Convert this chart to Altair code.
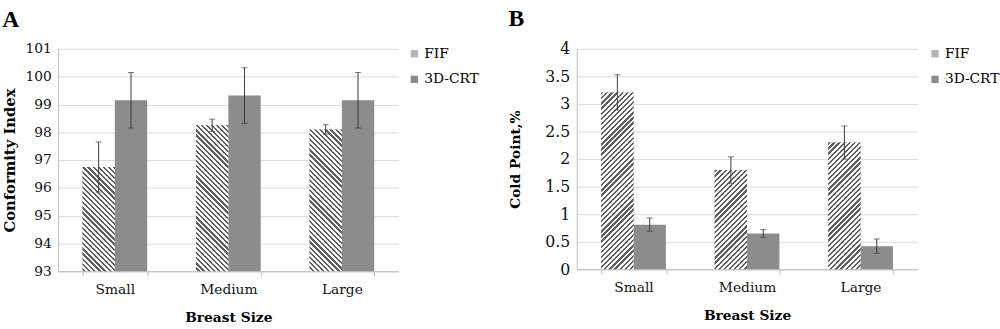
import math
import altair as alt
import pandas as pd

# ---------------- data ----------------
sizes = ["Small", "Medium", "Large"]
groups = ["FIF", "3D-CRT"]

ci_fif = [96.75, 98.25, 98.1]
ci_fif_err = [0.9, 0.22, 0.17]
ci_crt = [99.15, 99.32, 99.15]
ci_crt_err = [1.0, 1.0, 1.0]

cp_fif = [3.21, 1.8, 2.3]
cp_fif_err = [0.32, 0.24, 0.3]
cp_crt = [0.81, 0.65, 0.42]
cp_crt_err = [0.12, 0.07, 0.13]

FONT = "DejaVu Serif"
PAD_INNER = 0.43
HATCH = "#5e5e5e"
CRT_GRAY = "#8c8c8c"


def frame(fif, fif_err, crt, crt_err):
    rows = []
    for i, s in enumerate(sizes):
        rows.append(dict(size=s, group="FIF", value=fif[i],
                         lo=fif[i] - fif_err[i], hi=fif[i] + fif_err[i]))
        rows.append(dict(size=s, group="3D-CRT", value=crt[i],
                         lo=crt[i] - crt_err[i], hi=crt[i] + crt_err[i]))
    return pd.DataFrame(rows)


def clamp(t):
    return round(min(1.0, max(0.0, t)), 6)


def stripes(w, h, direction, period=5.2, dark=2.3):
    """Linear gradient (bounding-box units) that draws 45 degree stripes."""
    r = h / w
    s0, s1 = 0, w + h
    t = lambda s: s / (w * (1 + r * r))
    if direction == "back":  # "\\"
        coords = dict(x1=1, y1=0, x2=0, y2=r)
    else:  # "/"
        coords = dict(x1=0, y1=0, x2=1, y2=r)
    stops = [{"offset": 0, "color": "#ffffff"}]
    k = math.floor(s0 / period)
    while k * period < s1:
        a = k * period
        b = a + dark
        ta, tb = clamp(t(a)), clamp(t(b))
        stops += [{"offset": ta, "color": "#ffffff"},
                  {"offset": ta, "color": HATCH},
                  {"offset": tb, "color": HATCH},
                  {"offset": tb, "color": "#ffffff"}]
        k += 1
    stops.append({"offset": 1, "color": "#ffffff"})
    g = {"gradient": "linear", "stops": stops}
    g.update(coords)
    return g


def panel(df, letter, ytitle, ymin, ymax, step, W, H, direction, fmt,
          legend_x, label_size, ytitle_size, ytitle_pad):
    band = W / len(sizes)
    barw = band * (1 - PAD_INNER) / 2
    conds = []
    for s, v in zip(df[df.group == "FIF"]["size"], df[df.group == "FIF"]["value"]):
        h = (v - ymin) / (ymax - ymin) * H
        conds.append({"test": f"datum.size === '{s}'",
                      "value": stripes(barw, h, direction)})

    x = alt.X("size:N", sort=sizes, title="Breast Size",
              scale=alt.Scale(paddingInner=PAD_INNER, paddingOuter=PAD_INNER / 2),
              axis=alt.Axis(labelAngle=0, tickBand="extent", ticks=True,
                            tickSize=5, tickColor="#bdbdbd",
                            domainColor="#bdbdbd", labelPadding=7,
                            titlePadding=14, grid=False))
    xo = alt.XOffset("group:N", sort=groups, scale=alt.Scale(paddingInner=0, paddingOuter=0))
    tick_values = [round(ymin + i * step, 3) for i in range(int(round((ymax - ymin) / step)) + 1)]
    yscale = alt.Scale(domain=[ymin, ymax], nice=False, zero=False)
    yaxis = alt.Axis(values=tick_values,
                     format=fmt, ticks=False, grid=True, gridColor="#d9d9d9",
                     labelOverlap=False, labelFontSize=label_size,
                     titleFontSize=ytitle_size,
                     domainColor="#bdbdbd", labelPadding=7, titlePadding=ytitle_pad)

    def Y(field):
        return alt.Y(field, title=ytitle, scale=yscale, axis=yaxis)

    y2 = alt.datum(ymin)

    base = alt.Chart(df)
    bars = base.mark_bar().encode(
        x=x, xOffset=xo, y=Y("value:Q"), y2=y2,
        fill=alt.Fill("group:N", sort=groups,
                      scale=alt.Scale(domain=groups, range=["#b4b4b4", CRT_GRAY]),
                      legend=alt.Legend(title=None, orient="none",
                                        legendX=legend_x, legendY=-2,
                                        symbolType="square", symbolSize=55,
                                        symbolStrokeWidth=0, labelFont=FONT,
                                        labelFontSize=14, labelColor="#000000",
                                        rowPadding=12, padding=0, labelOffset=3)),
    )
    hatch = base.transform_filter("datum.group === 'FIF'").mark_bar().encode(
        x=x, xOffset=xo, y=Y("value:Q"), y2=y2,
        fill={"condition": conds, "value": "#b4b4b4"},
    )
    rule = base.mark_rule(color="#3a3a3a", strokeWidth=1).encode(
        x=x, xOffset=xo, y=Y("lo:Q"), y2="hi:Q")
    cap_lo = base.mark_tick(color="#3a3a3a", size=6, thickness=1).encode(
        x=x, xOffset=xo, y=Y("lo:Q"))
    cap_hi = base.mark_tick(color="#3a3a3a", size=6, thickness=1).encode(
        x=x, xOffset=xo, y=Y("hi:Q"))

    return alt.layer(bars, hatch, rule, cap_lo, cap_hi).properties(
        width=W, height=H,
        title=alt.TitleParams(letter, anchor="start", frame="bounds",
                              font="Liberation Serif", fontSize=24, fontWeight="bold",
                              color="#000000", offset=10),
    )


dfa = frame(ci_fif, ci_fif_err, ci_crt, ci_crt_err)
dfb = frame(cp_fif, cp_fif_err, cp_crt, cp_crt_err)

pa = panel(dfa, "A", "Conformity Index", 93, 101, 1, 346, 226, "back", "d",
           355, 14, 15, 8)
pb = panel(dfb, "B", "Cold Point,%", 0, 4, 0.5, 346, 224, "fwd", ".1~f",
           357, 16, 14, 23)

chart = alt.hconcat(pa, pb, spacing=29).resolve_scale(
    fill="independent", y="independent", x="independent", xOffset="independent"
).resolve_legend(fill="independent").configure(
    font=FONT,
    padding={"left": 2, "top": 5, "right": 0, "bottom": 0},
).configure_axis(
    labelFont=FONT, labelFontSize=14, labelColor="#111111",
    titleFont=FONT, titleFontSize=14, titleFontWeight="bold", titleColor="#000000",
).configure_view(stroke=None)

chart.save("out.html", embed_options={"renderer": "svg", "actions": False})
